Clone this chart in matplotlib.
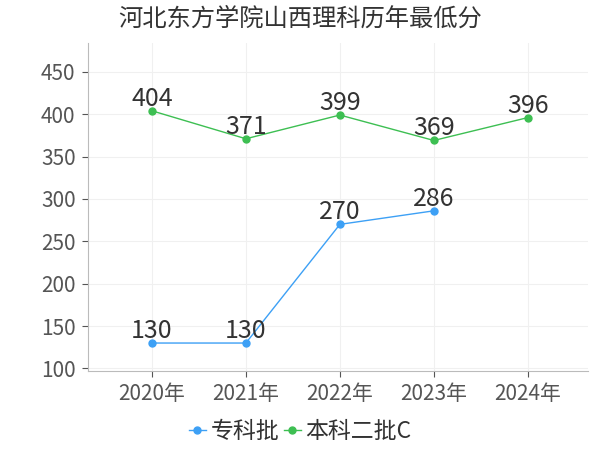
import matplotlib.pyplot as plt

plt.rcParams['font.family'] = ['Noto Sans CJK SC', 'DejaVu Sans']

years = ['2020年', '2021年', '2022年', '2023年', '2024年']
zhuanke = [130, 130, 270, 286]
benke2c = [404, 371, 399, 369, 396]

fig = plt.figure(figsize=(6, 4.5), dpi=100)
ax = fig.add_axes([88 / 600, 1 - 371 / 450, 500 / 600, 328 / 450])

x1 = list(range(len(zhuanke)))
x2 = list(range(len(benke2c)))
ax.plot(x1, zhuanke, color='#3da0f5', lw=1, marker='o', ms=5, label='专科批')
ax.plot(x2, benke2c, color='#3dbf52', lw=1, marker='o', ms=5, label='本科二批C')

# 数值标签
for xs, vals in [(x1, zhuanke), (x2, benke2c)]:
    for x, v in zip(xs, vals):
        ax.annotate(str(v), (x, v), xytext=(0, 12), textcoords='offset pixels',
                    ha='center', va='center', fontsize=18, color='#333333')

ax.set_xlim(-0.68, 4.64)
ax.set_ylim(97, 484)
ax.set_yticks([100, 150, 200, 250, 300, 350, 400, 450])
ax.set_xticks(range(len(years)))
ax.set_xticklabels(years)
ax.tick_params(labelsize=15, colors='#555555', length=4)
ax.tick_params(axis='x', pad=5)
ax.tick_params(axis='y', pad=5)
ax.grid(True, color='#f0f0f0', lw=0.8)
for s in ['top', 'right']:
    ax.spines[s].set_visible(False)
for s in ['left', 'bottom']:
    ax.spines[s].set_color('#bbbbbb')

fig.text(0.5, 0.958, '河北东方学院山西理科历年最低分', ha='center', va='center', fontsize=17.5, color='#333333')
fig.legend(loc='center', bbox_to_anchor=(0.5, 0.04), ncol=2, frameon=False, fontsize=16.5,
           handlelength=0.75, handletextpad=0.2, columnspacing=0.2, labelcolor='#333333')

fig.savefig('out.png')
